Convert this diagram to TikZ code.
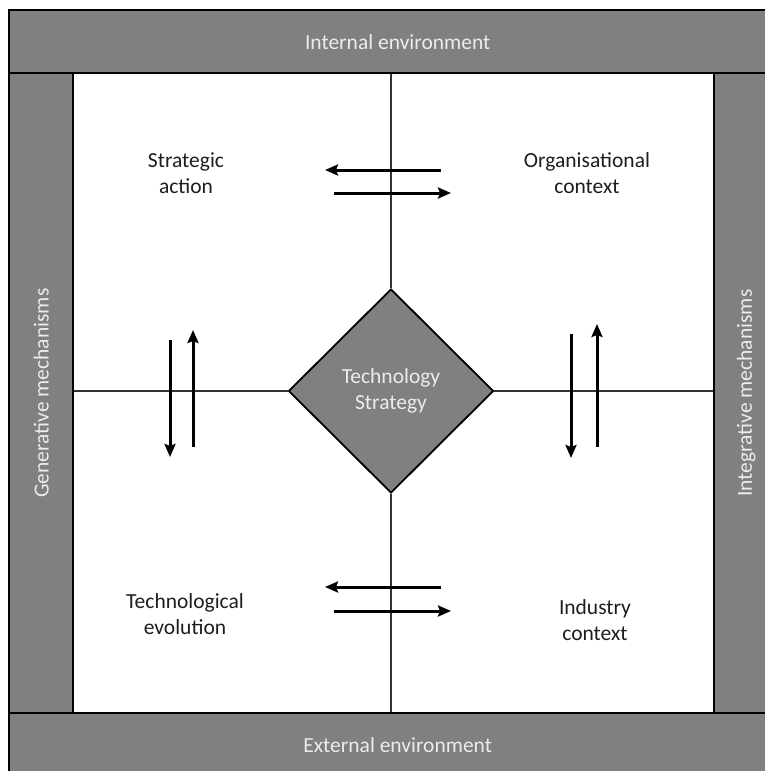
\documentclass[tikz,border=0pt]{standalone}
\usepackage{fontspec}
\setmainfont{Carlito}
\usetikzlibrary{shapes.geometric,arrows.meta}

\definecolor{barfill}{RGB}{128,128,128}
\definecolor{lighttext}{RGB}{236,236,236}
\definecolor{darktext}{RGB}{30,30,30}
\definecolor{axis}{RGB}{50,50,50}

\tikzset{
  bar/.style={draw=black, line width=2.4pt, fill=barfill, inner sep=0pt,
    text=lighttext, font=\fontsize{21.5}{26}\selectfont},
  quadrant/.style={align=center, text=darktext,
    font=\fontsize{21.5}{26}\selectfont},
  core/.style={diamond, draw=black, line width=1.8pt, fill=barfill,
    minimum width=205pt, minimum height=204pt, inner sep=0pt, align=center,
    text=lighttext, font=\fontsize{21.5}{26}\selectfont},
  axisline/.style={draw=axis, line width=1.1pt},
  flow/.style={line width=3pt, -{Stealth[length=13pt,width=11pt,inset=2pt]}}
}

\begin{document}
\begin{tikzpicture}[x=1pt,y=-1pt]
  \useasboundingbox (0,0) rectangle (765,771);
  \fill[white] (0,0) rectangle (765,771);

  % surrounding frame of environments and mechanisms
  \node[bar, minimum width=777pt, minimum height=63pt, anchor=north west]
    (internal) at (8,9) {Internal environment};
  \node[bar, minimum width=777pt, minimum height=63pt, anchor=north west]
    (external) at (8,712) {External environment};
  \node[bar, minimum width=64pt, minimum height=640pt, anchor=north west]
    (generative) at (8,72) {\rotatebox{90}{Generative mechanisms}};
  \node[bar, minimum width=64pt, minimum height=640pt, anchor=north west]
    (integrative) at (713,72) {\rotatebox{90}{Integrative mechanisms}};

  % central strategy and the axes through it
  \node[core] (strategy) at (391,391) {Technology\\Strategy};
  \draw[axisline] (strategy.north) -- (strategy.north |- internal.south);
  \draw[axisline] (strategy.south) -- (strategy.south |- external.north);
  \draw[axisline] (strategy.west) -- (strategy.west -| generative.east);
  \draw[axisline] (strategy.east) -- (strategy.east -| integrative.west);

  % quadrant labels
  \node[quadrant] (action) at (186,173) {Strategic\\action};
  \node[quadrant] (organisation) at (587,173) {Organisational\\context};
  \node[quadrant] (evolution) at (185,614) {Technological\\evolution};
  \node[quadrant] (industry) at (595,620) {Industry\\context};

  % two-way flows between neighbouring quadrants
  \coordinate (topA1) at (441,170);  \coordinate (topA2) at (325,170);
  \coordinate (topB1) at (334,193);  \coordinate (topB2) at (451,193);
  \coordinate (botA1) at (441,587);  \coordinate (botA2) at (325,587);
  \coordinate (botB1) at (334,611);  \coordinate (botB2) at (451,611);
  \coordinate (lefA1) at (170,340);  \coordinate (lefA2) at (170,457);
  \coordinate (lefB1) at (193,447);  \coordinate (lefB2) at (193,330);
  \coordinate (rigA1) at (571,334);  \coordinate (rigA2) at (571,458);
  \coordinate (rigB1) at (597,447);  \coordinate (rigB2) at (597,324);

  \draw[flow] (topA1) -- (topA2);
  \draw[flow] (topB1) -- (topB2);
  \draw[flow] (botA1) -- (botA2);
  \draw[flow] (botB1) -- (botB2);
  \draw[flow] (lefA1) -- (lefA2);
  \draw[flow] (lefB1) -- (lefB2);
  \draw[flow] (rigA1) -- (rigA2);
  \draw[flow] (rigB1) -- (rigB2);
\end{tikzpicture}
\end{document}
